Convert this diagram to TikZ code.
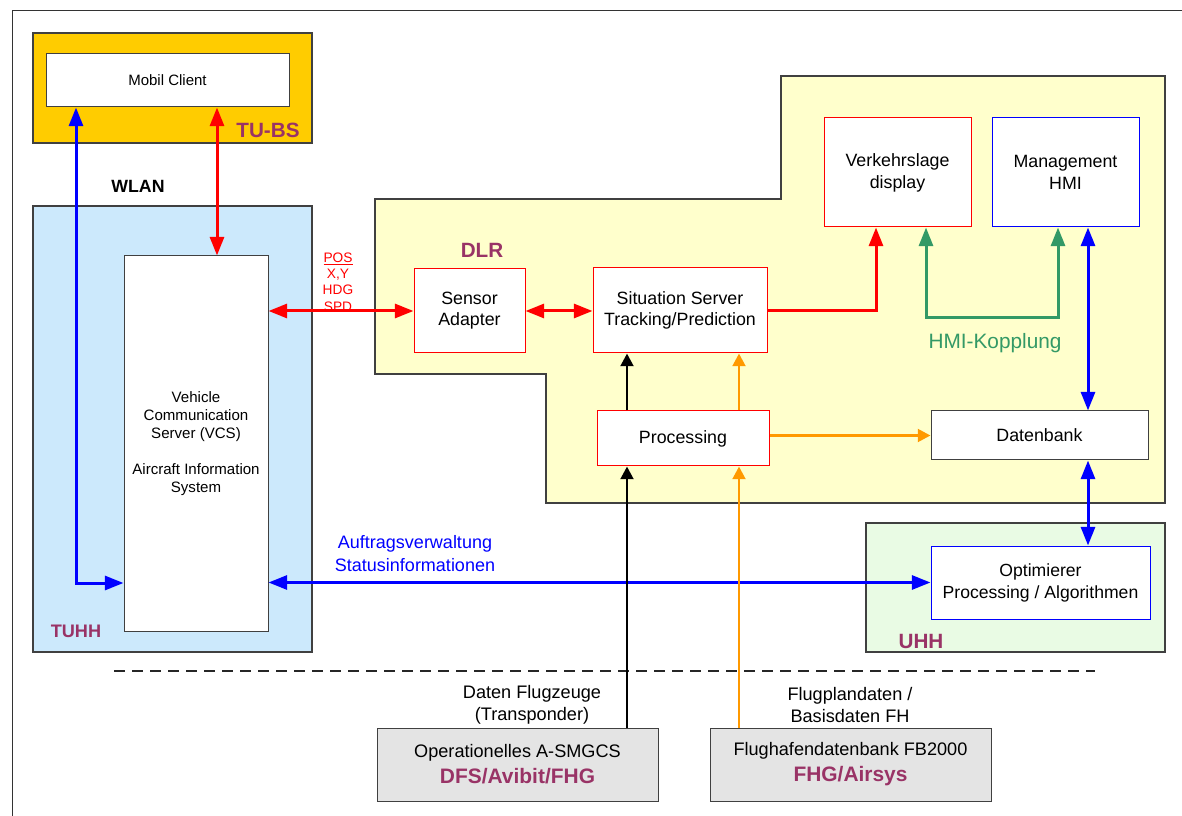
\documentclass[tikz,border=0pt]{standalone}
\usepackage{fontspec}
\setmainfont{Liberation Sans}
\usetikzlibrary{arrows.meta}
\definecolor{purp}{HTML}{993366}
\definecolor{tubsfill}{HTML}{FFCC00}
\definecolor{tuhhfill}{HTML}{CCE9FC}
\definecolor{dlrfill}{HTML}{FFFFCC}
\definecolor{uhhfill}{HTML}{E9FBE4}
\definecolor{grayfill}{HTML}{E4E4E4}
\definecolor{arrred}{HTML}{FF0000}
\definecolor{arrblue}{HTML}{0000FF}
\definecolor{arrgreen}{HTML}{339966}
\definecolor{arrorange}{HTML}{FF9900}
\newcommand\fsz[2]{\fontsize{#1pt}{#2pt}\selectfont}
\begin{document}
\begin{tikzpicture}[x=0.75pt,y=-0.75pt,
  sz/.style 2 args={minimum width=#1*0.75pt, minimum height=#2*0.75pt},
  region/.style={draw=black!75, line width=0.8pt, inner sep=0pt},
  wbox/.style={draw, fill=white, line width=0.75pt, align=center, inner sep=0pt, font=\fsz{13.35}{15.75}},
  redbox/.style={wbox, draw=arrred},
  bluebox/.style={wbox, draw=arrblue},
  graybox/.style={wbox, draw=black!75},
  orgl/.style={font=\fsz{15.5}{18}\bfseries, text=purp, inner sep=0pt},
  bigarr/.style={line width=2.25pt, arrows={-Triangle[length=14pt,width=10.5pt]}},
  bigdbl/.style={line width=2.25pt, arrows={Triangle[length=14pt,width=10.5pt]-Triangle[length=14pt,width=10.5pt]}},
  thinarr/.style={line width=2.1pt, arrows={-Triangle[length=9.5pt,width=9.5pt]}}
]
\useasboundingbox (0,0) rectangle (1182,816);
\fill[white] (0,0) rectangle (1182,816);
% frame
\draw[black!80, line width=0.75pt] (12,816) -- (12,11) -- (1182,11);

% regions
\node[region, fill=tubsfill, sz={279}{110}] (tubs) at (172.5,88) {};
\node[region, fill=tuhhfill, sz={279}{446}] (tuhh) at (172.5,429) {};
\draw[region, fill=dlrfill] (375,199) -- (781,199) -- (781,76) -- (1165,76) -- (1165,503) -- (546,503) -- (546,374) -- (375,374) -- cycle;
\node[region, fill=uhhfill, sz={299}{129}] (uhh) at (1015.5,587.5) {};

% boxes
\node[graybox, sz={243}{53}, font=\fsz{11.25}{13.5}] (mc) at (167.5,80.5) {Mobil Client};
\node[graybox, sz={144}{375}, font=\fsz{11.3}{13.5}] (vcs) at (196,443.5) {Vehicle\\Communication\\Server (VCS)\\[13.5pt]Aircraft Information\\System};
\node[redbox, sz={111}{84}] (sa) at (469.5,311) {Sensor\\Adapter};
\node[redbox, sz={174}{85}] (ss) at (680,310.5) {Situation Server\\Tracking/Prediction};
\node[redbox, sz={172}{55}] (proc) at (683,438.5) {Processing};
\node[redbox, sz={147}{109}, font=\fsz{13.35}{16.5}] (vd) at (897.5,172.5) {Verkehrslage\\display};
\node[bluebox, sz={147}{109}, font=\fsz{13.35}{16.5}] (mh) at (1065.5,172.5) {Management\\HMI};
\node[graybox, sz={217}{49}] (db) at (1039.5,435.5) {Datenbank};
\node[bluebox, sz={219}{73}, font=\fsz{13.2}{16.5}] (opt) at (1040.5,582.5) {Optimierer\\Processing / Algorithmen};
\node[graybox, fill=grayfill, sz={281}{73}, font=\fsz{13.6}{19.5}] (g1) at (517.5,764.5) {Operationelles A-SMGCS\\{\fsz{15.7}{19.5}\bfseries\color{purp}DFS/Avibit/FHG}};
\node[graybox, fill=grayfill, sz={281}{73}, font=\fsz{13.6}{19.5}] (g2) at (850.5,764.5) {Flughafendatenbank FB2000\\{\fsz{15.7}{19.5}\bfseries\color{purp}FHG/Airsys}};

% organisation labels
\node[orgl] (ltubs) at (268,130) {TU-BS};
\node[orgl, font=\fsz{13.3}{16}\bfseries, text=black] (lwlan) at (138,186) {WLAN};
\node[orgl, font=\fsz{13.6}{16}\bfseries] (ltuhh) at (76,631) {TUHH};
\node[orgl] (ldlr) at (482,250) {DLR};
\node[orgl] (luhh) at (921,641) {UHH};
\node[text=arrgreen, font=\fsz{15.6}{18}, inner sep=0pt] (lhmi) at (995,343) {HMI-Kopplung};
\node[text=arrblue, font=\fsz{13.5}{17.25}, align=center, inner sep=0pt] (lauf) at (415,553.5) {Auftragsverwaltung\\Statusinformationen};
\node[font=\fsz{13.6}{16.5}, align=center, inner sep=0pt] (ldat) at (532,705) {Daten Flugzeuge\\(Transponder)};
\node[font=\fsz{13.6}{16.5}, align=center, inner sep=0pt] (lflug) at (850,705) {Flugplandaten /\\Basisdaten FH};
\node[text=arrred, font=\fsz{10.3}{12.3}, align=center, inner sep=0pt] (lpos) at (338,282) {\underline{POS}\\X,Y\\HDG\\SPD};

% dashed separator
\coordinate (d1) at (114,671);
\coordinate (d2) at (1095,671);
\draw[black!85, line width=1.6pt, dash pattern=on 8.5pt off 5pt] (d1) -- (d2);

% connectors
\coordinate (bl) at (76,583);
\coordinate (rv) at (217,0);
\coordinate (r1) at (876,311);
\coordinate (gl) at (926,318);
\coordinate (gr) at (1058,318);
\coordinate (bx) at (1088,0);
\coordinate (kx) at (627,0);
\coordinate (ox) at (739,0);

\draw[bigdbl, arrblue] (bl |- mc.south) -- (bl) -- (bl -| vcs.west);
\draw[bigdbl, arrred] (rv |- mc.south) -- (rv |- vcs.north);
\draw[bigdbl, arrred] (sa.west -| vcs.east) -- (sa.west);
\draw[bigdbl, arrred] (sa.east) -- (ss.west |- sa.east);
\draw[bigarr, arrred] (ss.east |- r1) -- (r1) -- (r1 |- vd.south);
\draw[bigdbl, arrgreen] (gl |- vd.south) -- (gl) -- (gr) -- (gr |- mh.south);
\draw[bigdbl, arrblue] (bx |- mh.south) -- (bx |- db.north);
\draw[bigdbl, arrblue] (bx |- db.south) -- (bx |- opt.north);
\draw[bigdbl, arrblue] (opt.west -| vcs.east) -- (opt.west);
\draw[thinarr, black] (kx |- g1.north) -- (kx |- proc.south);
\draw[thinarr, black] (kx |- proc.north) -- (kx |- ss.south);
\draw[thinarr, arrorange] (ox |- g2.north) -- (ox |- proc.south);
\draw[thinarr, arrorange] (ox |- proc.north) -- (ox |- ss.south);
\draw[thinarr, arrorange] (db.west -| proc.east) -- (db.west);
\end{tikzpicture}
\end{document}
